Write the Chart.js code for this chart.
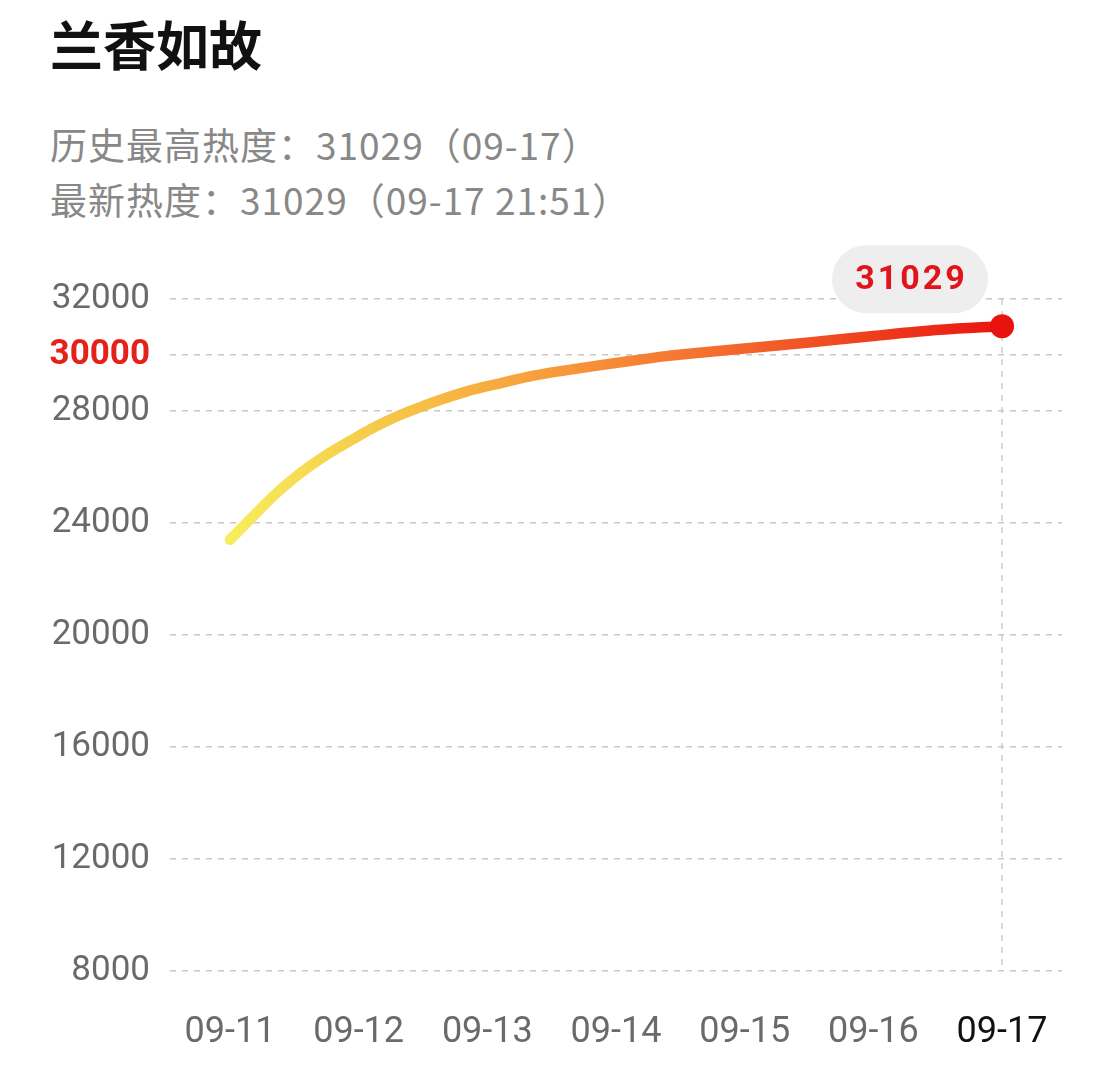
<!DOCTYPE html>
<html>
<head>
<meta charset="utf-8">
<script src="https://cdn.jsdelivr.net/npm/chart.js@4/dist/chart.umd.min.js"></script>
<style>
  html, body { margin: 0; padding: 0; background: #ffffff; }
  #wrap { position: relative; width: 1114px; height: 1080px; overflow: hidden; background: #fff; }
  #c { position: absolute; left: 0; top: 0; }
  .t { position: absolute; left: 50px; white-space: nowrap; font-family: "Noto Sans CJK SC", "Noto Sans", sans-serif; line-height: 1; }
  #title { top: 17px; font-size: 53px; font-weight: 700; color: #111; }
  #s1 { top: 126px; font-size: 37px; letter-spacing: 1px; color: #888888; }
  #s2 { top: 181px; font-size: 37px; letter-spacing: 1px; color: #888888; }
</style>
</head>
<body>
<div id="wrap">
  <div class="t" id="title">兰香如故</div>
  <div class="t" id="s1">历史最高热度：31029（09-17）</div>
  <div class="t" id="s2">最新热度：31029（09-17 21:51）</div>
  <canvas id="c" width="1114" height="1080"></canvas>
</div>
<script>
// ---- data ----
const dayLabels = ['09-11', '09-12', '09-13', '09-14', '09-15', '09-16', '09-17'];
const sampleDay = [0, 0.18, 0.31, 0.44, 0.57, 0.70, 0.83, 0.96, 1.09, 1.22, 1.35, 1.48, 1.58, 1.84, 2.10, 2.36, 2.62, 2.88, 3.13, 3.39, 3.65, 4.0, 4.5, 5.0, 5.52, 6.0];
const heatValues = [23400, 24240, 24840, 25380, 25860, 26280, 26660, 27000, 27340, 27640, 27910, 28140, 28310, 28700, 28990, 29260, 29460, 29640, 29800, 29960, 30080, 30230, 30450, 30680, 30900, 31029];
const yTickValues = [8000, 12000, 16000, 20000, 24000, 28000, 30000, 32000];
const highlightTick = 30000;
const peakLabel = '31029';

const points = sampleDay.map((d, i) => ({ x: d, y: heatValues[i] }));
const lastIndex = points.length - 1;

let gradCache = null, gradKey = '';
function lineGradient(ctx) {
  const chart = ctx.chart;
  const area = chart.chartArea;
  if (!area) return '#f7a040';
  const xs = chart.scales.x;
  const x0 = xs.getPixelForValue(0), x1 = xs.getPixelForValue(dayLabels.length - 1);
  const key = x0 + ':' + x1;
  if (gradCache && gradKey === key) return gradCache;
  const g = chart.ctx.createLinearGradient(x0, 0, x1, 0);
  g.addColorStop(0, '#f6ee5c');
  g.addColorStop(0.22, '#f6c446');
  g.addColorStop(0.42, '#f79a3b');
  g.addColorStop(0.68, '#f3622a');
  g.addColorStop(1, '#e9150f');
  gradCache = g; gradKey = key;
  return g;
}

const markerPlugin = {
  id: 'marker',
  beforeDatasetsDraw(chart) {
    const { ctx, chartArea, scales } = chart;
    const x = scales.x.getPixelForValue(sampleDay[lastIndex]);
    ctx.save();
    ctx.strokeStyle = '#cccccc';
    ctx.lineWidth = 1.5;
    ctx.setLineDash([6, 6]);
    ctx.beginPath();
    ctx.moveTo(x, chartArea.top);
    ctx.lineTo(x, chartArea.bottom);
    ctx.stroke();
    ctx.restore();
  },
  afterDatasetsDraw(chart) {
    const { ctx } = chart;
    const el = chart.getDatasetMeta(0).data[lastIndex];
    const cx = el.x - 92, cy = el.y - 47;
    const w = 156, h = 68, r = 34;
    ctx.save();
    ctx.fillStyle = '#eeeeee';
    ctx.beginPath();
    ctx.roundRect(cx - w / 2, cy - h / 2, w, h, r);
    ctx.fill();
    ctx.fillStyle = '#e0141a';
    ctx.font = 'bold 34px Roboto, "DejaVu Sans", sans-serif';
    ctx.textAlign = 'center';
    ctx.textBaseline = 'middle';
    try { ctx.letterSpacing = '3px'; } catch (e) {}
    ctx.fillText(peakLabel, cx + 1.5, cy + 1);
    ctx.restore();
  }
};

new Chart(document.getElementById('c'), {
  type: 'line',
  data: {
    datasets: [{
      data: points,
      borderColor: lineGradient,
      borderWidth: 10.5,
      borderCapStyle: 'round',
      borderJoinStyle: 'round',
      cubicInterpolationMode: 'monotone',
      fill: false,
      pointRadius: ctx => (ctx.dataIndex === lastIndex ? 12 : 0),
      pointHoverRadius: ctx => (ctx.dataIndex === lastIndex ? 12 : 0),
      pointBackgroundColor: '#e8120e',
      pointBorderColor: '#e8120e',
      pointBorderWidth: 0,
      clip: false
    }]
  },
  options: {
    responsive: false,
    animation: false,
    events: [],
    layout: { padding: { left: 0, top: 299, right: 52, bottom: 0 } },
    plugins: { legend: { display: false }, tooltip: { enabled: false } },
    scales: {
      x: {
        type: 'linear',
        min: -0.466,
        max: 6.466,
        afterBuildTicks(scale) { scale.ticks = dayLabels.map((d, i) => ({ value: i })); },
        afterFit(scale) { scale.height = 109; },
        grid: { display: false, drawTicks: false },
        border: { display: false },
        ticks: {
          autoSkip: false,
          maxRotation: 0,
          padding: 40,
          font: { family: 'Roboto', size: 36 },
          color: ctx => (ctx.index === dayLabels.length - 1 ? '#111111' : '#6a6a6a'),
          callback: (v) => dayLabels[Math.round(v)]
        }
      },
      y: {
        min: 8000,
        max: 32000,
        afterBuildTicks(scale) { scale.ticks = yTickValues.map(v => ({ value: v })); },
        afterFit(scale) { scale.width = 170; },
        grid: { color: '#c8c8c8', lineWidth: 1.5, drawTicks: false },
        border: { display: false, dash: [6, 6] },
        ticks: {
          padding: 20,
          font: ctx => ({ family: 'Roboto', size: 35, weight: (ctx.tick && ctx.tick.value === highlightTick) ? 'bold' : 'normal' }),
          color: ctx => (ctx.tick && ctx.tick.value === highlightTick ? '#e5221a' : '#6a6a6a'),
          callback: v => String(v)
        }
      }
    }
  },
  plugins: [markerPlugin]
});
</script>
</body>
</html>
